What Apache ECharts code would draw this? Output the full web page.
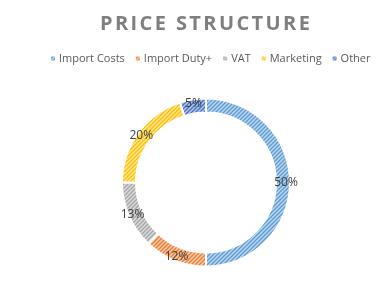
<!DOCTYPE html>
<html><head><meta charset="utf-8">
<script src="https://cdn.jsdelivr.net/npm/echarts@6/dist/echarts.min.js"></script>
<style>html,body{margin:0;padding:0;background:#fff;}#c{width:386px;height:287px;}</style>
</head><body><div id="c"></div>
<script>
const categories = ["Import Costs", "Import Duty+", "VAT", "Marketing", "Other"];
const values = [50, 12, 13, 20, 5];
const baseColors = ["#5B9BD5", "#ED7D31", "#A5A5A5", "#FFC000", "#4472C4"];
const titleText = "PRICE STRUCTURE";

// letter-spaced title (canvas letterSpacing)
(function () {
  const orig = CanvasRenderingContext2D.prototype.fillText;
  CanvasRenderingContext2D.prototype.fillText = function (t, x, y, m) {
    if (t === titleText && 'letterSpacing' in this) {
      const o = this.letterSpacing;
      this.letterSpacing = '2.4px';
      orig.call(this, t, x, y, m);
      this.letterSpacing = o;
    } else {
      orig.call(this, t, x, y, m);
    }
  };
})();

function tint(hex, f) {
  const n = parseInt(hex.slice(1), 16);
  const r = (n >> 16) & 255, g = (n >> 8) & 255, b = n & 255;
  const m = v => Math.round(v + (255 - v) * f);
  return 'rgb(' + m(r) + ',' + m(g) + ',' + m(b) + ')';
}
function hatch(hex) {
  const s = 4;
  const c = document.createElement('canvas');
  c.width = s; c.height = s;
  const ctx = c.getContext('2d');
  ctx.fillStyle = tint(hex, 0.6);
  ctx.fillRect(0, 0, s, s);
  ctx.strokeStyle = hex;
  ctx.lineWidth = 1.3;
  ctx.beginPath();
  ctx.moveTo(-1, s + 1); ctx.lineTo(s + 1, -1);
  ctx.moveTo(-1, 1); ctx.lineTo(1, -1);
  ctx.moveTo(s - 1, s + 1); ctx.lineTo(s + 1, s - 1);
  ctx.stroke();
  return { image: c, repeat: 'repeat' };
}

const chart = echarts.init(document.getElementById('c'), null, { renderer: 'canvas' });
chart.setOption({
  animation: false,
  backgroundColor: '#fff',
  title: {
    text: titleText,
    left: 95,
    top: 9,
    textStyle: { fontFamily: 'Open Sans', fontWeight: 'bold', fontSize: 20, color: '#7f7f7f' }
  },
  legend: {
    data: categories,
    top: 48,
    left: 44,
    width: 340,
    itemWidth: 6,
    itemHeight: 6,
    itemGap: 9,
    icon: 'rect',
    textStyle: { fontFamily: 'Open Sans', fontSize: 11, color: '#595959', padding: [0, 0, 0, -2] }
  },
  series: [{
    type: 'pie',
    center: [206, 182.5],
    radius: [70, 84],
    startAngle: 90,
    clockwise: true,
    avoidLabelOverlap: false,
    itemStyle: { borderColor: '#fff', borderWidth: 2 },
    label: {
      show: true,
      position: 'inside',
      formatter: p => p.value + '%',
      fontFamily: 'Open Sans',
      fontSize: 12,
      color: '#404040'
    },
    labelLine: { show: false },
    emphasis: { disabled: true },
    data: categories.map((n, i) => ({
      name: n,
      value: values[i],
      itemStyle: { color: hatch(baseColors[i]) }
    }))
  }]
});
</script></body></html>
